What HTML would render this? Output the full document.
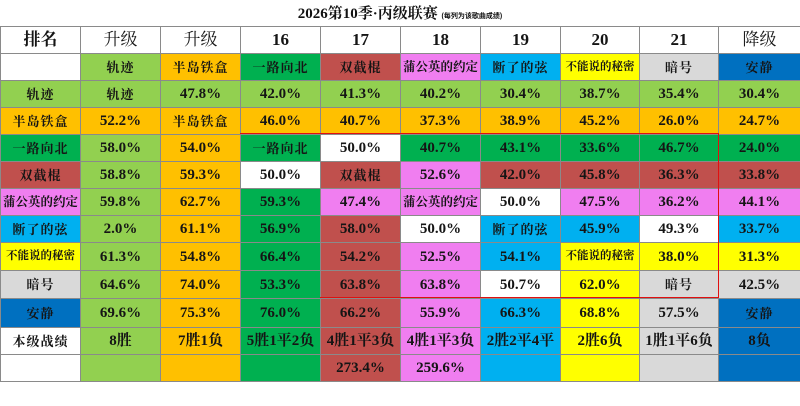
<!DOCTYPE html>
<html><head><meta charset="utf-8">
<style>
html,body{margin:0;padding:0;background:#fff;width:800px;height:406px;overflow:hidden}
.title{position:absolute;left:0;top:0;width:800px;height:26px;text-align:center;font:bold 15px "Liberation Serif","Noto Serif CJK SC",serif;line-height:29px;color:#111}
.title small{font:bold 7px "Liberation Sans","Noto Sans CJK SC",sans-serif}
table{position:absolute;left:0;top:26px;border-collapse:collapse;table-layout:fixed;width:800px}
td{border:1px solid #8a8a8a;padding:0;text-align:center;font:bold 15px "Liberation Serif","Noto Serif CJK SC",serif;color:#151515;white-space:nowrap;overflow:hidden;line-height:14px}
tr.h td{font-weight:normal;font-size:17px;background:#fff}
tr.h td.b{font-weight:bold}
td.n{font-size:13px;letter-spacing:1px;line-height:13px}
td.m{font-size:12.5px;letter-spacing:0}
td.s{font-size:11.5px;letter-spacing:0}
.L{background:#92D050}.O{background:#FFC000}.G{background:#00B050}.R{background:#C0504D}.P{background:#F07EF0}.C{background:#00B0F0}.Y{background:#FFFF00}.S{background:#D9D9D9}.B{background:#0070C0}.W{background:#fff}
.red{position:absolute;background:#e01010}
</style></head><body>
<div class="title">2026第10季·丙级联赛 <small>(每列为该歌曲成绩)</small></div>
<table>
<colgroup><col style="width:80px"><col style="width:80px"><col style="width:80px"><col style="width:80px"><col style="width:80px"><col style="width:80px"><col style="width:80px"><col style="width:79px"><col style="width:79px"><col style="width:82px"></colgroup>
<tr class="h" style="height:27px"><td class="b">排名</td><td>升级</td><td>升级</td><td class="b">16</td><td class="b">17</td><td class="b">18</td><td class="b">19</td><td class="b">20</td><td class="b">21</td><td>降级</td></tr>
<tr style="height:27px"><td class="W"></td><td class="L n">轨迹</td><td class="O n">半岛铁盒</td><td class="G n">一路向北</td><td class="R n">双截棍</td><td class="P n m">蒲公英的约定</td><td class="C n">断了的弦</td><td class="Y n s">不能说的秘密</td><td class="S n">暗号</td><td class="B n">安静</td></tr>
<tr style="height:27px"><td class="L n">轨迹</td><td class="L n">轨迹</td><td class="L">47.8%</td><td class="L">42.0%</td><td class="L">41.3%</td><td class="L">40.2%</td><td class="L">30.4%</td><td class="L">38.7%</td><td class="L">35.4%</td><td class="L">30.4%</td></tr>
<tr style="height:27px"><td class="O n">半岛铁盒</td><td class="O">52.2%</td><td class="O n">半岛铁盒</td><td class="O">46.0%</td><td class="O">40.7%</td><td class="O">37.3%</td><td class="O">38.9%</td><td class="O">45.2%</td><td class="O">26.0%</td><td class="O">24.7%</td></tr>
<tr style="height:27px"><td class="G n">一路向北</td><td class="L">58.0%</td><td class="O">54.0%</td><td class="G n">一路向北</td><td class="W">50.0%</td><td class="G">40.7%</td><td class="G">43.1%</td><td class="G">33.6%</td><td class="G">46.7%</td><td class="G">24.0%</td></tr>
<tr style="height:27px"><td class="R n">双截棍</td><td class="L">58.8%</td><td class="O">59.3%</td><td class="W">50.0%</td><td class="R n">双截棍</td><td class="P">52.6%</td><td class="R">42.0%</td><td class="R">45.8%</td><td class="R">36.3%</td><td class="R">33.8%</td></tr>
<tr style="height:27px"><td class="P n m">蒲公英的约定</td><td class="L">59.8%</td><td class="O">62.7%</td><td class="G">59.3%</td><td class="P">47.4%</td><td class="P n m">蒲公英的约定</td><td class="W">50.0%</td><td class="P">47.5%</td><td class="P">36.2%</td><td class="P">44.1%</td></tr>
<tr style="height:27px"><td class="C n">断了的弦</td><td class="L">2.0%</td><td class="O">61.1%</td><td class="G">56.9%</td><td class="R">58.0%</td><td class="W">50.0%</td><td class="C n">断了的弦</td><td class="C">45.9%</td><td class="W">49.3%</td><td class="C">33.7%</td></tr>
<tr style="height:28px"><td class="Y n s">不能说的秘密</td><td class="L">61.3%</td><td class="O">54.8%</td><td class="G">66.4%</td><td class="R">54.2%</td><td class="P">52.5%</td><td class="C">54.1%</td><td class="Y n s">不能说的秘密</td><td class="Y">38.0%</td><td class="Y">31.3%</td></tr>
<tr style="height:28px"><td class="S n">暗号</td><td class="L">64.6%</td><td class="O">74.0%</td><td class="G">53.3%</td><td class="R">63.8%</td><td class="P">63.8%</td><td class="W">50.7%</td><td class="Y">62.0%</td><td class="S n">暗号</td><td class="S">42.5%</td></tr>
<tr style="height:29px"><td class="B n">安静</td><td class="L">69.6%</td><td class="O">75.3%</td><td class="G">76.0%</td><td class="R">66.2%</td><td class="P">55.9%</td><td class="C">66.3%</td><td class="Y">68.8%</td><td class="S">57.5%</td><td class="B n">安静</td></tr>
<tr style="height:27px"><td class="W n">本级战绩</td><td class="L">8胜</td><td class="O">7胜1负</td><td class="G">5胜1平2负</td><td class="R">4胜1平3负</td><td class="P">4胜1平3负</td><td class="C">2胜2平4平</td><td class="Y">2胜6负</td><td class="S">1胜1平6负</td><td class="B">8负</td></tr>
<tr style="height:27px"><td class="W"></td><td class="L"></td><td class="O"></td><td class="G"></td><td class="R">273.4%</td><td class="P">259.6%</td><td class="C"></td><td class="Y"></td><td class="S"></td><td class="B"></td></tr>
</table>
<div class="red" style="left:240px;top:133px;width:479px;height:1px"></div>
<div class="red" style="left:718px;top:133px;width:1px;height:165px"></div>
<div class="red" style="left:320px;top:297px;width:399px;height:1px"></div>
</body></html>
